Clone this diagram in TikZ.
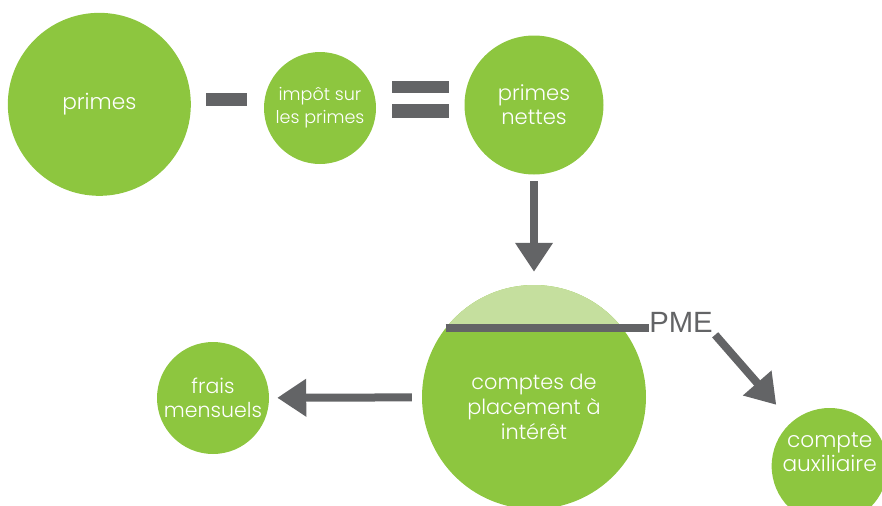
\documentclass[tikz,border=0pt]{standalone}
\usepackage{fontspec}
\setmainfont{Poppins}[UprightFont=* Light]
\newfontfamily\pmefont{Liberation Sans}
\usetikzlibrary{positioning, arrows.meta}
\definecolor{leafgreen}{HTML}{8DC63F}
\definecolor{capgreen}{HTML}{C5DF9E}
\definecolor{bargray}{HTML}{636466}
\tikzset{
  bubble/.style={circle, fill=leafgreen, text=white, align=center, inner sep=0pt}, % green disc
  words/.style={text=white, align=center, inner sep=0pt}, % white text on a disc
  bar/.style={fill=bargray, inner sep=0pt, minimum width=1.23cm, minimum height=0.39cm}, % minus / equals
  flow/.style={draw=bargray, line width=0.24cm, -{Triangle[length=0.87cm, width=1.08cm]}}, % thick gray arrow
}

\begin{document}
\begin{tikzpicture}[node distance=1cm]
	\useasboundingbox (0,0) rectangle (26.46,-15.18);

	\node[bubble, minimum size=5.49cm, font=\fontsize{18.5}{21}\selectfont] (primes) at (2.98,-3.13) {primes};
	\node[bubble, minimum size=3.36cm, right of=primes, xshift=5.62cm, yshift=-0.11cm, font=\fontsize{15}{19.5}\selectfont] (impot) {imp\^ot sur\\les primes};
	\node[bubble, minimum size=4.17cm, right of=impot, xshift=5.42cm, yshift=0.09cm, font=\fontsize{18}{20.5}\selectfont] (nettes) {primes\\nettes};

	\node[bar] (minus) at (6.8,-2.98) {};
	\node[bar, minimum width=1.71cm, minimum height=0.38cm] (eqtop) at (12.62,-2.61) {};
	\node[bar, minimum width=1.71cm, minimum height=0.40cm] (eqbot) at (12.62,-3.33) {};

	\node[bubble, minimum size=6.72cm, below of=nettes, yshift=-7.76cm,
		path picture={\fill[capgreen] (path picture bounding box.north west) rectangle ([yshift=-1.32cm]path picture bounding box.north east);}] (big) {};
	\node[words, font=\fontsize{17.8}{21.5}\selectfont] (bigtext) at ([yshift=-0.3cm]big.center) {comptes de\\placement \`a\\int\'er\^et};

	\node[bubble, minimum size=3.36cm, left of=big, xshift=-8.63cm, yshift=-0.03cm, font=\fontsize{17.5}{20}\selectfont] (frais) {frais\\mensuels};
	\node[inner sep=0pt, text=bargray, font=\pmefont\fontsize{25}{25}\selectfont, right of=big, xshift=3.41cm, yshift=2.25cm] (pme) {PME};
	\node[bubble, minimum size=3.48cm, right of=big, xshift=7.87cm, yshift=-2.07cm] (aux) {};
	\node[words, font=\fontsize{18.5}{21}\selectfont] (auxtext) at ([yshift=0.42cm]aux.center) {compte\\auxiliaire};

	\draw[draw=bargray, line width=0.24cm] (big.142.6) -- (big.142.6 -| pme.west);

	\draw[flow, shorten <=0.2cm, shorten >=0.39cm] (nettes) -- (big);
	\draw[flow, shorten <=0.3cm, shorten >=0.24cm] (big) -- (frais);
	\draw[flow, shorten <=0.1cm, shorten >=0.69cm] (pme.south east) -- (aux);
\end{tikzpicture}
\end{document}
